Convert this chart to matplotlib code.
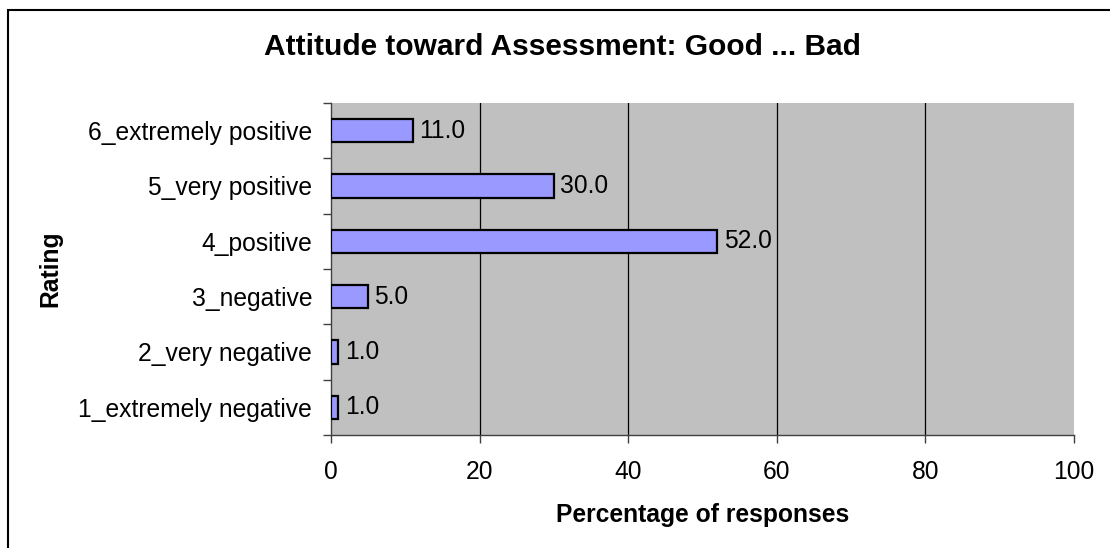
import matplotlib
matplotlib.use("Agg")
import matplotlib.pyplot as plt
from matplotlib.patches import Rectangle
import numpy as np

# chart data
ratings = [
    "1_extremely negative",
    "2_very negative",
    "3_negative",
    "4_positive",
    "5_very positive",
    "6_extremely positive",
]
percentages = [1.0, 1.0, 5.0, 52.0, 30.0, 11.0]
x_ticks = [0, 20, 40, 60, 80, 100]

title = "Attitude toward Assessment: Good ... Bad"
x_label = "Percentage of responses"
y_label = "Rating"

plt.rcParams["font.family"] = ["Liberation Sans", "DejaVu Sans"]
FS = 17.7

W, H = 1110, 548
fig = plt.figure(figsize=(W / 100, H / 100), dpi=100)
fig.patch.set_facecolor("white")

# plot area in pixel coordinates
left, right, top, bottom = 331, 1074, 103, 435
ax = fig.add_axes([left / W, 1 - bottom / H, (right - left) / W, (bottom - top) / H])
ax.set_facecolor("#c0c0c0")

pos = np.arange(len(ratings))
ax.barh(pos, percentages, height=0.42, color="#9999ff", edgecolor="black", linewidth=1.6, zorder=3)

for y, v in zip(pos, percentages):
    ax.annotate(f"{v:.1f}", xy=(v, y), xytext=(4.5, 0), textcoords="offset points",
                ha="left", va="center", fontsize=FS, zorder=4)

ax.set_xlim(0, 100)
ax.set_ylim(-0.5, len(ratings) - 0.5)
ax.set_xticks(x_ticks)
ax.set_xticklabels([str(t) for t in x_ticks], fontsize=FS)
ax.tick_params(axis="x", direction="out", length=6, width=1, color="#404040", pad=12)

# Excel-style: tick marks between categories, labels at centres
ax.set_yticks(np.arange(-0.5, len(ratings), 1.0))
ax.set_yticklabels([])
ax.set_yticks(pos, minor=True)
ax.set_yticklabels(ratings, minor=True, fontsize=FS)
ax.tick_params(axis="y", which="major", direction="out", length=6, width=1, color="#404040")
ax.tick_params(axis="y", which="minor", length=0, pad=13.5)

for g in x_ticks[1:-1]:
    ax.axvline(g, color="black", linewidth=0.9, zorder=1)

for s in ["top", "right"]:
    ax.spines[s].set_visible(False)
for s in ["left", "bottom"]:
    ax.spines[s].set_color("#404040")
    ax.spines[s].set_linewidth(1)

ax.set_xlabel(x_label, fontsize=FS, fontweight="bold", labelpad=14)
fig.text(50 / W, 1 - 269 / H, y_label, rotation=90, fontsize=FS, fontweight="bold",
         ha="center", va="center")
fig.text(562 / W, 1 - 47 / H, title, fontsize=21.5, fontweight="bold", ha="center", va="center")

# chart frame (cut off on the right and bottom)
fig.add_artist(Rectangle((8 / W, -0.1), 1.2, 1.1 - 10 / H, transform=fig.transFigure,
                         fill=False, edgecolor="black", linewidth=1.5))

fig.savefig("out.png", dpi=100)
